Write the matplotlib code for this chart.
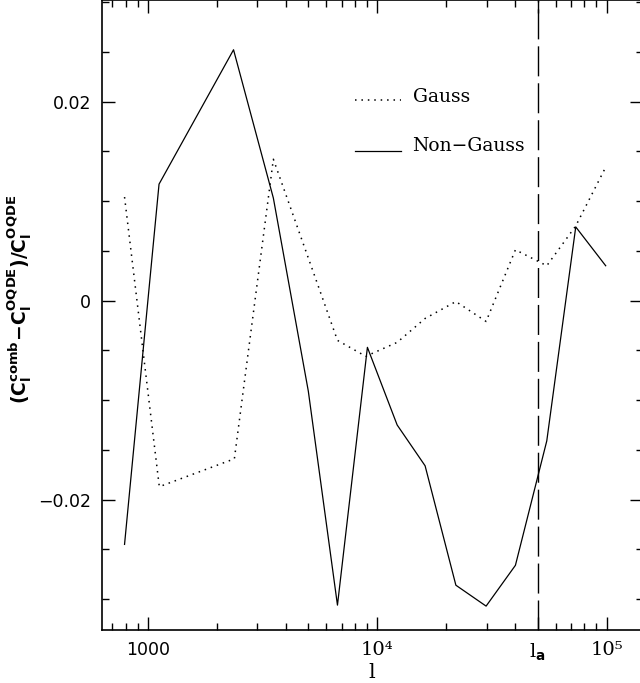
import matplotlib
matplotlib.use("Agg")
from matplotlib import pyplot as plt
from matplotlib.ticker import FixedLocator, NullFormatter

plt.rcParams['mathtext.fontset'] = 'custom'
plt.rcParams['mathtext.rm'] = 'DejaVu Serif'
plt.rcParams['mathtext.it'] = 'DejaVu Serif:italic'
plt.rcParams['mathtext.bf'] = 'DejaVu Sans:bold'

# data
l_gauss = [790, 1120, 2380, 3520, 6700, 8900, 12200, 16150, 22000, 29800, 40000, 54800, 73300, 99000]
gauss = [0.0104, -0.0187, -0.0159, 0.0142, -0.0040, -0.0056, -0.0042, -0.0018, -0.0001, -0.0021, 0.0051, 0.0035, 0.0075, 0.0134]

l_ngauss = [790, 1117, 2360, 3520, 5000, 6700, 9050, 12200, 16150, 22000, 29800, 40000, 54800, 73300, 99000]
ngauss = [-0.0245, 0.0117, 0.0252, 0.0103, -0.0091, -0.0306, -0.0047, -0.0125, -0.0166, -0.0286, -0.0307, -0.0266, -0.0141, 0.0074, 0.0035]

l_a = 5e4

major_x = [1000, 1e4, l_a, 1e5]
major_lbl = ["1000", "10\u2074", r"$\mathrm{l}_{\mathbf{a}}$", "10\u2075"]
minor_x = [700, 800, 900, 2000, 3000, 4000, 5000, 6000, 7000, 8000, 9000,
           20000, 30000, 40000, 60000, 70000, 80000, 90000]
y_ticks = [-0.02, 0, 0.02]
y_lbl = ["\u22120.02", "0", "0.02"]

fig = plt.figure(figsize=(6.4, 6.83), dpi=100)
ax = fig.add_axes([102/640, 53/683, 541/640, 630/683])

ax.plot(l_gauss, gauss, color="black", lw=1.1, linestyle=(0, (1, 3.2)))
ax.plot(l_ngauss, ngauss, color="black", lw=0.9)
ax.axvline(l_a, color="black", lw=1.0, linestyle=(0, (21.6, 5)))

ax.set_xscale("log")
ax.set_xlim(630, 1.44e5)
ax.set_ylim(-0.0331, 0.0302)

ax.xaxis.set_major_locator(FixedLocator(major_x))
ax.xaxis.set_minor_locator(FixedLocator(minor_x))
ax.xaxis.set_minor_formatter(NullFormatter())
ax.set_xticklabels(major_lbl)
ax.set_yticks(y_ticks)
ax.set_yticklabels(y_lbl)
ax.yaxis.set_minor_locator(FixedLocator([-0.03, -0.025, -0.015, -0.01, -0.005,
                                         0.005, 0.01, 0.015, 0.025, 0.03]))

ax.tick_params(which="both", direction="in", top=True, right=True, width=1.0)
ax.tick_params(which="major", length=9.4, pad=8)
ax.tick_params(which="minor", length=5.2)
for t in ax.get_yticklabels():
    t.set_fontsize(12.5)
    t.set_family("DejaVu Sans")
for t, s in zip(ax.get_xticklabels(), major_lbl):
    if s == "1000":
        t.set_fontsize(12.5)
    else:
        t.set_fontsize(14)
        t.set_family("DejaVu Serif")
for sp in ax.spines.values():
    sp.set_linewidth(1.2)

ax.set_xlabel(r"$\mathrm{l}$", fontsize=15, labelpad=0)
ax.set_ylabel(r"$\mathbf{(C_l^{comb}\!-\!C_l^{OQDE})/C_l^{OQDE}}$", fontsize=13.5, va="center")
ax.yaxis.set_label_coords(-0.152, 0.524)

# legend
ax.plot([0.4685, 0.552], [0.841, 0.841], transform=ax.transAxes, color="black",
        lw=1.1, linestyle=(0, (1, 3.2)))
ax.plot([0.4685, 0.552], [0.760, 0.760], transform=ax.transAxes, color="black", lw=0.9)
ax.text(0.574, 0.846, "Gauss", transform=ax.transAxes, family="DejaVu Serif",
        fontsize=13.5, va="center", ha="left")
ax.text(0.574, 0.768, "Non\u2212Gauss", transform=ax.transAxes, family="DejaVu Serif",
        fontsize=13.5, va="center", ha="left")

fig.savefig("out.png", dpi=100)
